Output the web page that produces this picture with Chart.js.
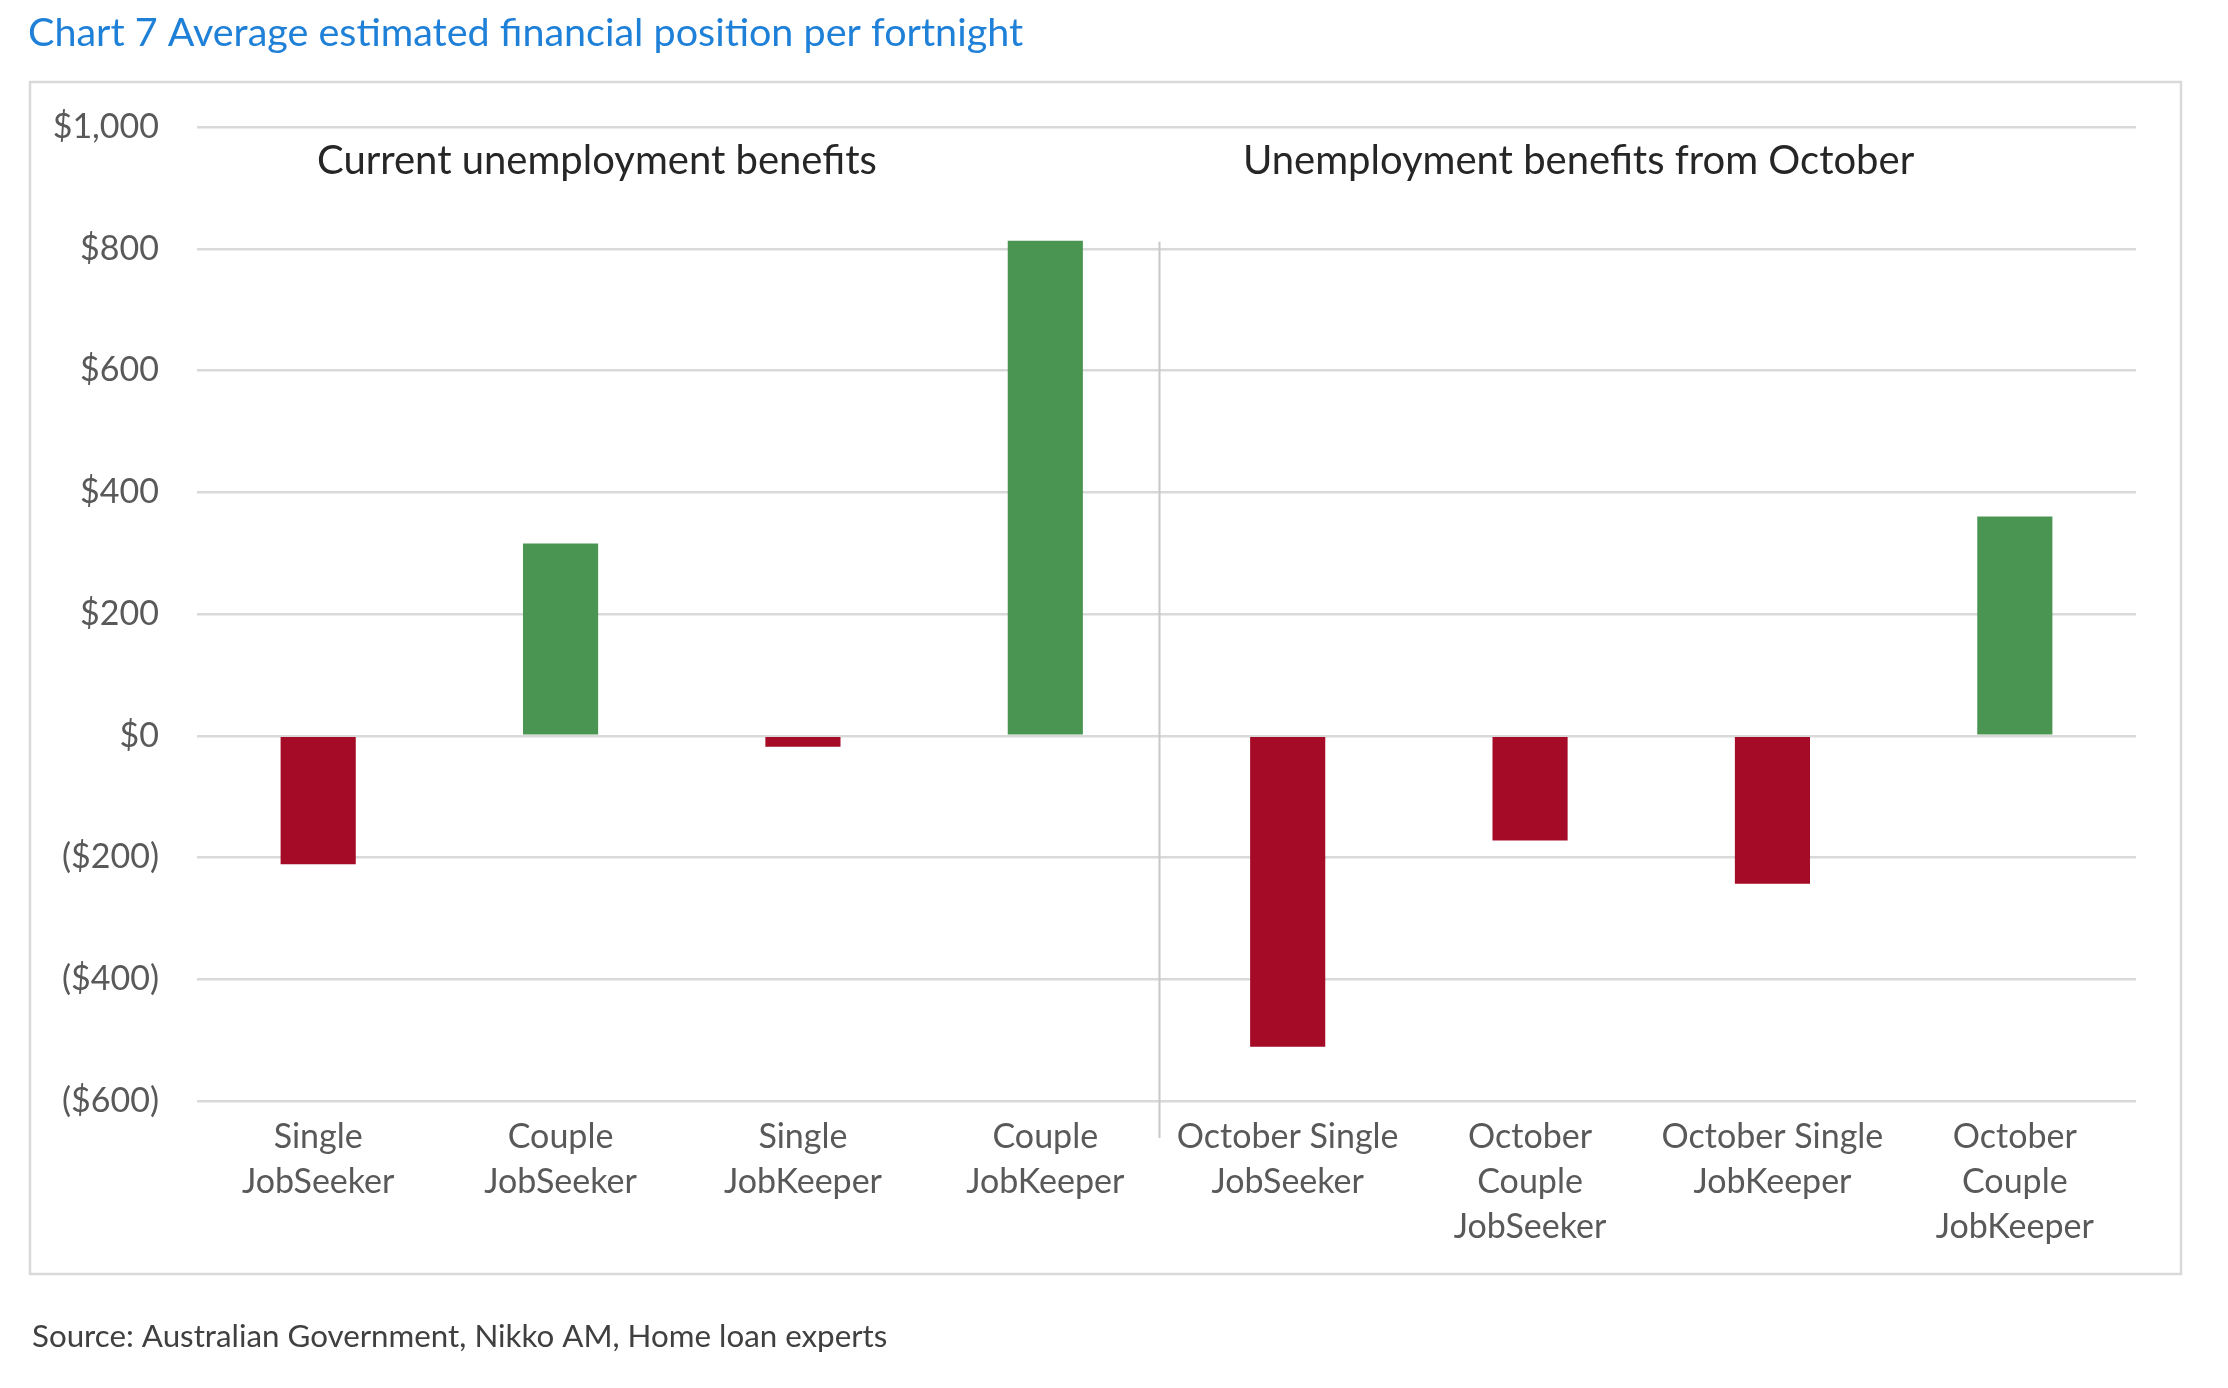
<!DOCTYPE html>
<html lang="en">

<head>
    <meta charset="UTF-8">
    <title>Average estimated financial position per fortnight</title>
    <style>
        html, body { margin: 0; padding: 0; background: #fff; }
        #wrap { position: relative; width: 2228px; height: 1388px; }
    </style>
</head>

<body>
    <div id="wrap"><canvas id="myChart" width="2228" height="1388"></canvas></div>
    <script src="https://cdn.jsdelivr.net/npm/chart.js"></script>
    <script>
        const categories = [
            ['Single', 'JobSeeker'],
            ['Couple', 'JobSeeker'],
            ['Single', 'JobKeeper'],
            ['Couple', 'JobKeeper'],
            ['October Single', 'JobSeeker'],
            ['October', 'Couple', 'JobSeeker'],
            ['October Single', 'JobKeeper'],
            ['October', 'Couple', 'JobKeeper']
        ];
        const position = [-211, 316, -18, 813, -511, -172, -243, 360];
        const tickValues = [-600, -400, -200, 0, 200, 400, 600, 800, 1000];
        const tickLabels = ['($600)', '($400)', '($200)', '$0', '$200', '$400', '$600', '$800', '$1,000'];
        const groupTitles = ['Current unemployment benefits', 'Unemployment benefits from October'];

        const FONT = 'Lato';
        const GREEN = '#4a9552';
        const RED = '#a50a26';

        // frame, title, source, section headings and the divider
        const decorations = {
            id: 'decorations',
            beforeDraw(chart) {
                const { ctx } = chart;
                ctx.save();
                ctx.fillStyle = '#fff';
                ctx.fillRect(0, 0, chart.width, chart.height);
                ctx.strokeStyle = '#d9d9d9';
                ctx.lineWidth = 2.5;
                ctx.strokeRect(30, 82, 2151, 1192);

                ctx.fillStyle = '#1f80d8';
                ctx.font = '39.5px ' + FONT;
                ctx.textBaseline = 'alphabetic';
                ctx.fillText('Chart 7 Average estimated financial position per fortnight', 28, 46);

                ctx.fillStyle = '#404040';
                ctx.font = '31.3px ' + FONT;
                ctx.fillText('Source: Australian Government, Nikko AM, Home loan experts', 32, 1347);
                ctx.restore();
            },
            beforeDatasetsDraw(chart) {
                const { ctx, scales: { x, y }, chartArea } = chart;
                ctx.save();
                const dx = Math.round(x.getPixelForValue(3.47)) + 0.5;
                ctx.strokeStyle = '#c8c8c8';
                ctx.lineWidth = 2;
                ctx.beginPath();
                ctx.moveTo(dx, y.getPixelForValue(800) - 7);
                ctx.lineTo(dx, chartArea.bottom + 37);
                ctx.stroke();

                ctx.fillStyle = '#262626';
                ctx.font = '40px ' + FONT;
                ctx.textAlign = 'center';
                ctx.textBaseline = 'alphabetic';
                const top = y.getPixelForValue(1000);
                ctx.fillText(groupTitles[0], x.getPixelForValue(1.15), top + 47);
                ctx.fillText(groupTitles[1], x.getPixelForValue(5.2), top + 47);
                ctx.restore();
            }
        };

        const ctx = document.getElementById('myChart').getContext('2d');
        const chart = new Chart(ctx, {
            type: 'bar',
            data: {
                labels: categories,
                datasets: [{
                    data: position,
                    backgroundColor: (c) => c.raw < 0 ? RED : GREEN,
                    borderWidth: 0,
                    categoryPercentage: 1,
                    barPercentage: 0.31
                }]
            },
            options: {
                responsive: false,
                animation: false,
                devicePixelRatio: 1,
                layout: { padding: { top: 127, right: 92, bottom: 0, left: 0 } },
                plugins: {
                    legend: { display: false },
                    tooltip: { enabled: false }
                },
                scales: {
                    x: {
                        grid: { display: false, drawTicks: false },
                        border: { display: false },
                        ticks: {
                            autoSkip: false,
                            maxRotation: 0,
                            padding: 14,
                            color: '#595959',
                            font: { family: FONT, size: 34, lineHeight: 1.32 }
                        },
                        afterFit(scale) { scale.height = 287; }
                    },
                    y: {
                        min: -600,
                        max: 1000,
                        afterBuildTicks(scale) {
                            scale.ticks = tickValues.map(v => ({ value: v }));
                        },
                        grid: { color: '#d9d9d9', lineWidth: 2.5, drawTicks: false },
                        border: { display: false },
                        ticks: {
                            padding: 38,
                            color: '#595959',
                            font: { family: FONT, size: 34 },
                            callback: (v) => tickLabels[tickValues.indexOf(v)]
                        },
                        afterFit(scale) { scale.width = 197; }
                    }
                }
            },
            plugins: [decorations]
        });
    </script>
</body>

</html>
